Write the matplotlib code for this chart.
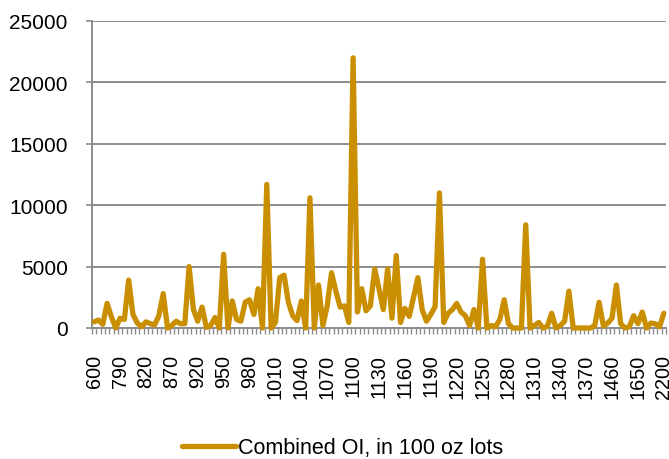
import numpy as np
import matplotlib
matplotlib.use('Agg')
import matplotlib.pyplot as plt
from matplotlib.ticker import FixedLocator

# strike prices (categories); Excel shows every 6th one as a label
strikes = [600, 650, 700, 750, 770, 780, 790, 795, 800, 805, 810, 815, 820,
           825, 830, 840, 850, 860, 870, 875, 880, 890, 900, 910, 920,
           925, 930, 935, 940, 945, 950, 955, 960, 965, 970,
           975, 980, 985, 990, 995, 1000, 1005, 1010, 1015, 1020,
           1025, 1030, 1035, 1040, 1045, 1050, 1055, 1060, 1065, 1070,
           1075, 1080, 1085, 1090, 1095, 1100, 1105, 1110, 1115, 1120,
           1125, 1130, 1135, 1140, 1145, 1150, 1155, 1160, 1165, 1170,
           1175, 1180, 1185, 1190, 1195, 1200, 1205, 1210, 1215, 1220,
           1225, 1230, 1235, 1240, 1245, 1250, 1255, 1260, 1265, 1270,
           1275, 1280, 1285, 1290, 1295, 1300, 1305, 1310, 1315, 1320,
           1325, 1330, 1335, 1340, 1345, 1350, 1355, 1360, 1365, 1370,
           1380, 1390, 1400, 1420, 1440, 1460,
           1480, 1500, 1550, 1600, 1625, 1650,
           1700, 1750, 1800, 1900, 2000, 2200]

# combined open interest, in 100 oz lots
open_interest = [500, 650, 300, 2000, 900, 0, 800, 700, 3900, 1100,
                 400, 100, 500, 350, 250, 1000, 2800, 0, 200, 550,
                 350, 350, 5000, 1500, 550, 1700, 50, 200, 850, 0,
                 6000, 0, 2200, 700, 550, 2100, 2300, 1100, 3200, 0,
                 11700, 0, 450, 4100, 4300, 2100, 1000, 600, 2200, 0,
                 10600, 0, 3500, 200, 1800, 4500, 3000, 1700, 1800, 450,
                 22000, 1300, 3200, 1400, 1800, 4800, 3200, 1500, 4800, 800,
                 5900, 450, 1600, 950, 2500, 4100, 1500, 550, 1100, 1750,
                 11000, 450, 1200, 1500, 2000, 1300, 1000, 200, 1500, 0,
                 5600, 0, 200, 100, 700, 2300, 350, 0, 0, 0,
                 8400, 0, 200, 450, 0, 130, 1200, 0, 200, 550,
                 3000, 0, 0, 0, 0, 0, 200, 2100, 150, 400,
                 800, 3500, 350, 0, 100, 1000, 350, 1300, 0, 400,
                 350, 100, 1200]

label_step = 6
series_name = 'Combined OI, in 100 oz lots'

plt.rcParams['font.family'] = ['Liberation Sans', 'DejaVu Sans']

gold = '#C98F00'
grey = '#8C8C8C'

fig = plt.figure(figsize=(6.69, 4.60), dpi=100)
ax = fig.add_axes([92 / 669, 1 - 329 / 460, (666 - 92) / 669, (329 - 22) / 460])

n = len(strikes)
x = np.arange(n)
line, = ax.plot(x, open_interest, color=gold, lw=3.8, solid_joinstyle='round',
                solid_capstyle='round', zorder=3, clip_on=False, label=series_name)

ax.set_xlim(-0.5, n - 0.5)
ax.set_ylim(0, 25000)
ax.set_yticks(np.arange(0, 25001, 5000))
ax.yaxis.grid(True, color=grey, lw=1.4)
ax.set_axisbelow(True)

# labels at every 6th category, tick marks on every category boundary
ax.set_xticks(x[::label_step])
ax.set_xticklabels([str(s) for s in strikes[::label_step]], rotation=90)
ax.xaxis.set_minor_locator(FixedLocator(np.arange(-0.5, n, 1.0)))
ax.tick_params(axis='x', which='major', length=0, pad=18.5, labelsize=14.3)
ax.tick_params(axis='x', which='minor', length=4, width=1, color=grey, direction='out')
ax.tick_params(axis='y', length=4.5, width=1.2, color=grey, pad=13, labelsize=15)

for side in ['top', 'right']:
    ax.spines[side].set_visible(False)
for side in ['left', 'bottom']:
    ax.spines[side].set_color(grey)
    ax.spines[side].set_linewidth(1.4)

fig.legend(handles=[line], loc='center', bbox_to_anchor=(0.512, 0.024),
           frameon=False, fontsize=15.5, handlelength=2.5, handletextpad=0.1)

fig.savefig('out.png', dpi=100)
